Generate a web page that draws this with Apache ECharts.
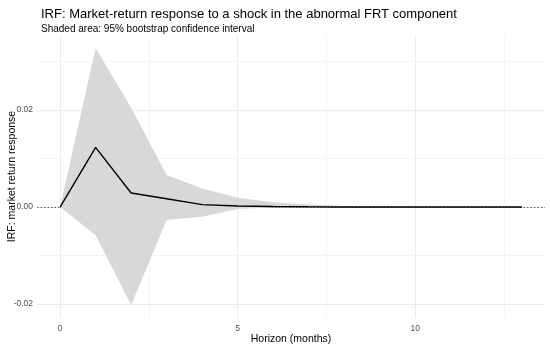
<!DOCTYPE html>
<html><head><meta charset="utf-8">
<script src="https://cdn.jsdelivr.net/npm/echarts@6/dist/echarts.min.js"></script>
<style>html,body{margin:0;padding:0;background:#fff}#c{width:550px;height:348px}</style>
</head><body><div id="c"></div>
<script>
const horizon = [0,1,2,3,4,5,6,7,8,9,10,11,12,13];
const irf   = [0, 0.0123, 0.0029, 0.0017, 0.0005, 0.0002, 0.0001, 0.00005, 0.00002, 0.00001, 0, 0, 0, 0];
const upper = [0, 0.0328, 0.0205, 0.0066, 0.0038, 0.0019, 0.0010, 0.0005, 0.0002, 0.0001, 0.00005, 0, 0, 0];
const lower = [0, -0.0058, -0.0202, -0.0027, -0.0020, -0.0004, -0.0001, -0.00005, 0, 0, 0, 0, 0, 0];
const xTicks = [0, 5, 10];
const xMinor = [2.5, 7.5, 12.5];
const yTicks = [-0.02, 0, 0.02];
const yMinor = [-0.01, 0.01, 0.03];

const font = 'Liberation Sans, Arial, sans-serif';
const chart = echarts.init(document.getElementById('c'), null, {renderer:'canvas'});
const pair = (a) => horizon.map((h,i)=>[h,a[i]]);
const gridLine = (c,w) => ({color:c, width:w, type:'solid'});
const bandData = horizon.map((h,i)=>[h, lower[i], upper[i]]);

chart.setOption({
  animation:false,
  backgroundColor:'#fff',
  title:[
    {text:'IRF: Market-return response to a shock in the abnormal FRT component', left:36, top:3,
     textStyle:{fontFamily:font, fontSize:13, fontWeight:'normal', color:'#000'}},
    {text:'Shaded area: 95% bootstrap confidence interval', left:36, top:19,
     textStyle:{fontFamily:font, fontSize:10, fontWeight:'normal', color:'#000'}}
  ],
  grid:{left:37, right:5, top:35, bottom:30, containLabel:false, outerBoundsMode:'none'},
  xAxis:{type:'value', min:-0.65, max:13.65,
    name:'Horizon (months)', nameLocation:'middle', nameGap:16, nameMoveOverlap:false,
    nameTextStyle:{fontFamily:font, fontSize:10.5, color:'#000'},
    axisLine:{show:false}, axisTick:{show:false}, splitLine:{show:false},
    axisLabel:{customValues:xTicks, fontFamily:font, fontSize:8.5, color:'#4d4d4d', margin:6}},
  yAxis:{type:'value', min:-0.0229, max:0.0355,
    name:'IRF: market return response', nameLocation:'middle', nameGap:19, nameMoveOverlap:false,
    nameTextStyle:{fontFamily:font, fontSize:10.5, color:'#000'},
    axisLine:{show:false}, axisTick:{show:false}, splitLine:{show:false},
    axisLabel:{customValues:yTicks, fontFamily:font, fontSize:8.5, color:'#4d4d4d', margin:4,
      formatter:(v)=>v.toFixed(2)}},
  series:[
    {type:'line', data:[], z:0, silent:true,
     markLine:{z:0, silent:true, symbol:'none', label:{show:false}, animation:false,
       data:[
         ...xTicks.map(v=>({xAxis:v, lineStyle:gridLine('#ebebeb',1)})),
         ...xMinor.map(v=>({xAxis:v, lineStyle:gridLine('#f2f2f2',0.8)})),
         ...yTicks.map(v=>({yAxis:v, lineStyle:gridLine('#ebebeb',1)})),
         ...yMinor.map(v=>({yAxis:v, lineStyle:gridLine('#f2f2f2',0.8)}))
       ]}},
    {type:'line', data:[], z:1, silent:true,
     markLine:{z:1, silent:true, symbol:'none', label:{show:false}, animation:false,
       data:[{yAxis:0, lineStyle:{color:'#333', width:0.8, type:[1.5,2]}}]}},
    {name:'band', type:'custom', data:bandData, z:2, silent:true,
     encode:{x:0, y:[1,2]},
     renderItem:(params, api)=>{
       if (params.dataIndex !== 0) return null;
       const top = bandData.map(d=>api.coord([d[0], d[2]]));
       const bot = bandData.map(d=>api.coord([d[0], d[1]])).reverse();
       return {type:'polygon', shape:{points:top.concat(bot)}, style:{fill:'#d8d8d8'}};
     }},
    {name:'irf', type:'line', data:pair(irf), symbol:'none',
     lineStyle:{color:'#000', width:1.4}, z:3, silent:true}
  ]
});
</script></body></html>
